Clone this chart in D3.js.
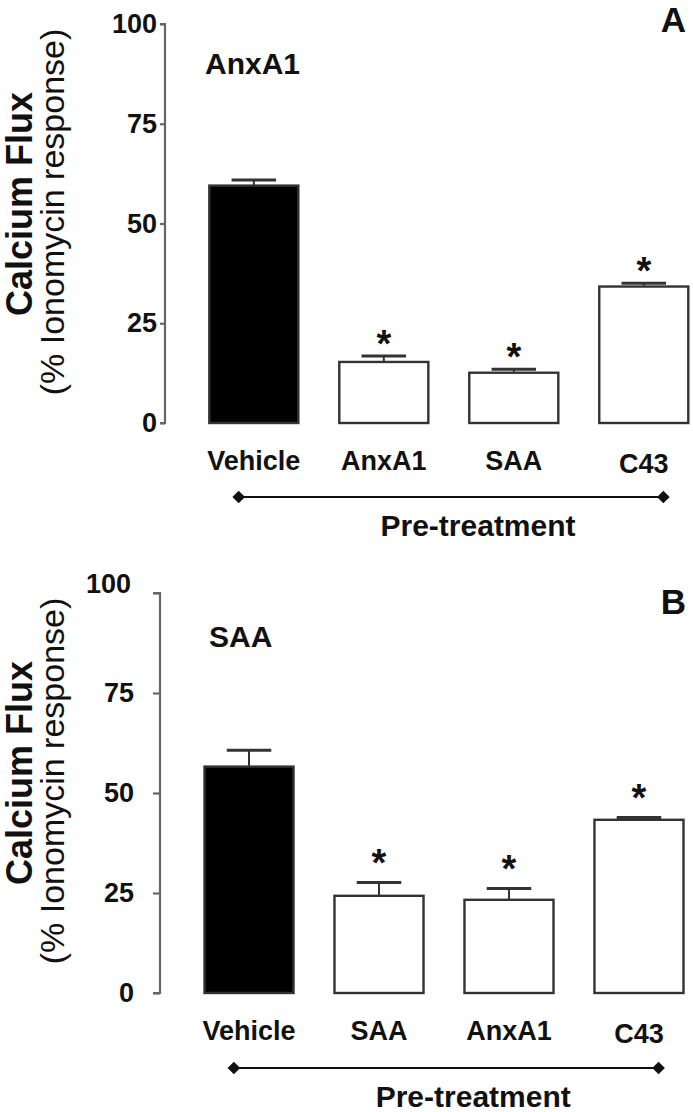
<!DOCTYPE html>
<html>
<head>
<meta charset="utf-8">
<script src="https://cdn.jsdelivr.net/npm/d3@7/dist/d3.min.js"></script>
<style>
  html, body { margin: 0; padding: 0; background: #fff; }
  svg { display: block; }
  text { font-family: "Liberation Sans", Arial, Helvetica, sans-serif; fill: #111; }
</style>
</head>
<body>
<svg id="chart" width="693" height="1112"></svg>
<script>
// ---- Data ----
const yTicks = [0, 25, 50, 75, 100];
const yTickLabels = ["0", "25", "50", "75", "100"];

const categoriesA = ["Vehicle", "AnxA1", "SAA", "C43"];
const meansA = [59.5, 15.3, 12.6, 34.2];
const semA = [1.4, 1.5, 0.9, 0.8];
const starsA = [false, true, true, true];

const categoriesB = ["Vehicle", "SAA", "AnxA1", "C43"];
const meansB = [56.6, 24.3, 23.3, 43.3];
const semB = [4.1, 3.3, 2.8, 0.6];
const starsB = [false, true, true, true];

const titleA = "AnxA1";
const titleB = "SAA";
const yTitle1 = "Calcium Flux";
const yTitle2 = "(% Ionomycin response)";
const xGroupTitle = "Pre-treatment";

// ---- Drawing ----
const svg = d3.select("#chart");
const FONT = "'Liberation Sans', Arial, Helvetica, sans-serif";

function drawPanel(cfg) {
  const g = svg.append("g");
  const y = d3.scaleLinear().domain([0, 100]).range([cfg.y0, cfg.y100]);
  const x = d3.scaleBand().domain(cfg.categories)
    .range([cfg.xStart, cfg.xEnd]).paddingInner(0.315).paddingOuter(0);

  // y axis
  const yAxis = d3.axisLeft(y).tickValues(yTicks)
    .tickFormat((d, i) => yTickLabels[i])
    .tickSize(cfg.tickSize).tickPadding(cfg.tickPad);
  const ya = g.append("g").attr("transform", `translate(${cfg.axisX},0)`).call(yAxis);
  ya.select(".domain").attr("stroke", "#666").attr("stroke-width", 2.2)
    .attr("d", `M${-cfg.tickSize},${cfg.y100}H0V${cfg.y0}H${-cfg.tickSize}`);
  ya.selectAll(".tick line").attr("stroke", "#666").attr("stroke-width", 2.2);
  ya.selectAll(".tick text")
    .attr("font-size", 27).attr("font-weight", "bold").attr("fill", "#111")
    .attr("font-family", FONT)
    .attr("transform", d => d === 100 ? `translate(${cfg.top100dx},${cfg.top100dy})` : null);

  // bars
  const data = cfg.categories.map((c, i) => ({ c, m: cfg.means[i], s: cfg.sem[i], star: cfg.stars[i], i }));
  g.selectAll("rect.bar").data(data).enter().append("rect")
    .attr("class", "bar")
    .attr("x", d => x(d.c))
    .attr("width", x.bandwidth())
    .attr("y", d => y(d.m))
    .attr("height", d => y(0) - y(d.m))
    .attr("fill", d => d.i === 0 ? "#000" : "#fff")
    .attr("stroke", "#333")
    .attr("stroke-width", 2.4);

  // error bars
  const cx = d => x(d.c) + x.bandwidth() / 2;
  g.selectAll("line.stem").data(data).enter().append("line")
    .attr("x1", cx).attr("x2", cx)
    .attr("y1", d => y(d.m)).attr("y2", d => y(d.m + d.s))
    .attr("stroke", "#333").attr("stroke-width", 2);
  g.selectAll("line.cap").data(data).enter().append("line")
    .attr("x1", d => cx(d) - x.bandwidth() / 4).attr("x2", d => cx(d) + x.bandwidth() / 4)
    .attr("y1", d => y(d.m + d.s)).attr("y2", d => y(d.m + d.s))
    .attr("stroke", "#333").attr("stroke-width", 3);

  // significance stars
  const starFs = 38;
  g.selectAll("text.star").data(data.filter(d => d.star)).enter().append("text")
    .attr("x", cx)
    .attr("y", d => y(d.m + d.s) - cfg.starGap + 0.57 * starFs)
    .attr("text-anchor", "middle")
    .attr("font-size", starFs).attr("font-weight", "bold")
    .text("*");

  // x axis labels
  const xAxis = d3.axisBottom(x).tickSize(0).tickPadding(0);
  const xa = g.append("g").attr("transform", `translate(0,${cfg.xLabelY})`).call(xAxis);
  xa.select(".domain").remove();
  xa.selectAll(".tick text")
    .attr("font-size", 27).attr("font-weight", "bold").attr("fill", "#111")
    .attr("font-family", FONT)
    .attr("dy", 0)
    .attr("y", d => d === "C43" ? 3 : 0);

  // group line with diamonds
  const lx1 = x(cfg.categories[0]) + x.bandwidth() * 0.33;
  const lx2 = x(cfg.categories[cfg.categories.length - 1]) + x.bandwidth() * 0.72;
  g.append("line").attr("x1", lx1).attr("x2", lx2)
    .attr("y1", cfg.lineY).attr("y2", cfg.lineY)
    .attr("stroke", "#111").attr("stroke-width", 2);
  const diamond = d3.symbol().type(d3.symbolSquare).size(80);
  [lx1, lx2].forEach(px => {
    g.append("path").attr("d", diamond())
      .attr("transform", `translate(${px},${cfg.lineY}) rotate(45)`)
      .attr("fill", "#111");
  });
  g.append("text").attr("x", (lx1 + lx2) / 2 + 27).attr("y", cfg.groupTitleY)
    .attr("text-anchor", "middle").attr("font-size", 30).attr("font-weight", "bold")
    .text(xGroupTitle);

  // titles
  g.append("text").attr("x", cfg.titleX).attr("y", cfg.titleY)
    .attr("font-size", 30).attr("font-weight", "bold").text(cfg.title);
  g.append("text").attr("x", 686).attr("y", cfg.letterY)
    .attr("text-anchor", "end").attr("font-size", 35).attr("font-weight", "bold").text(cfg.letter);

  // y title
  const midY = cfg.y100 + 180;
  g.append("text").attr("transform", `translate(32,${midY}) rotate(-90)`)
    .attr("text-anchor", "middle").attr("font-size", 36).attr("font-weight", "bold")
    .text(yTitle1);
  g.append("text").attr("transform", `translate(64,${midY + 8}) rotate(-90)`)
    .attr("text-anchor", "middle").attr("font-size", 34).attr("font-weight", "normal")
    .text(yTitle2);
}

drawPanel({
  categories: categoriesA, means: meansA, sem: semA, stars: starsA,
  y0: 423, y100: 24, axisX: 165, tickSize: 5, tickPad: 3, top100dx: 0, top100dy: 0,
  xStart: 209.3, xEnd: 688.3, starGap: 21,
  xLabelY: 470, lineY: 497, groupTitleY: 536,
  title: titleA, titleX: 205, titleY: 74, letter: "A", letterY: 32
});

drawPanel({
  categories: categoriesB, means: meansB, sem: semB, stars: starsB,
  y0: 993, y100: 593, axisX: 160, tickSize: 7, tickPad: 19, top100dx: -3, top100dy: -9,
  xStart: 204.5, xEnd: 683.5, starGap: 28,
  xLabelY: 1040, lineY: 1068, groupTitleY: 1107,
  title: titleB, titleX: 209, titleY: 647, letter: "B", letterY: 614
});
</script>
</body>
</html>
